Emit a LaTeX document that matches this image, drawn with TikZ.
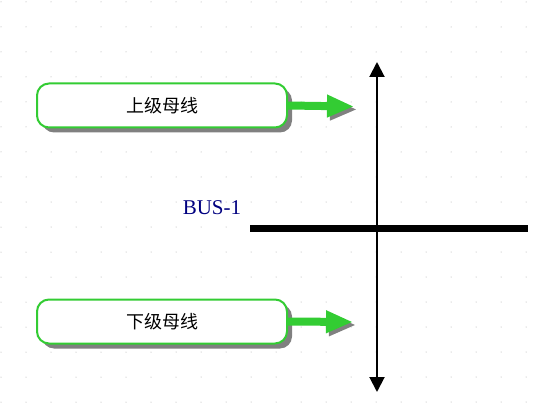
\documentclass[tikz,border=0pt]{standalone}
\usepackage{fontspec}
\setmainfont{Liberation Serif}
\newfontfamily\cjk{Noto Sans CJK SC}
\usetikzlibrary{arrows.meta,shadows}
\definecolor{busgreen}{HTML}{33CC33}
\definecolor{busnavy}{HTML}{000080}
\begin{document}
\begin{tikzpicture}[x=1pt, y=-1pt,
    levelbox/.style = {draw=busgreen, line width=2pt, fill=white, rounded corners=12pt,
        minimum width=250pt, minimum height=44pt, font=\cjk\fontsize{18}{18}\selectfont,
        drop shadow={shadow xshift=5pt, shadow yshift=-5pt, fill=gray, opacity=1}},
    feed/.style = {busgreen, line width=8pt, -{Triangle[length=27pt,width=21pt]},
        preaction={draw=gray, transform canvas={shift={(3pt,-3pt)}}}},
    dot/.style = {fill=gray!70}]
    \useasboundingbox (0,0) rectangle (533,417);
    % background grid
    \foreach \i in {1,26,...,526}
        \foreach \j in {2,27,...,402}
            \fill[dot] (\i,\j) circle (0.5pt);
    \node[levelbox] (up) at (162,105.5) {上级母线};
    \node[levelbox] (low) at (162,321.5) {下级母线};
    \coordinate (upTip) at (354,106.5);
    \coordinate (lowTip) at (353,322);
    \draw[feed] (up.east) -- (upTip);
    \draw[feed] (low.east) -- (lowTip);
    % bus
    \coordinate (busL) at (250,228);
    \coordinate (busR) at (528,228);
    \coordinate (busTop) at (377,62);
    \coordinate (busBot) at (377,392);
    \draw[line width=2pt, {Triangle[length=15pt,width=15pt]}-{Triangle[length=15pt,width=15pt]}] (busBot) -- (busTop);
    \draw[line width=7pt] (busL) -- (busR);
    \node[text=busnavy, font=\fontsize{21}{21}\selectfont] (name) at (212,208) {BUS-1};
\end{tikzpicture}
\end{document}
